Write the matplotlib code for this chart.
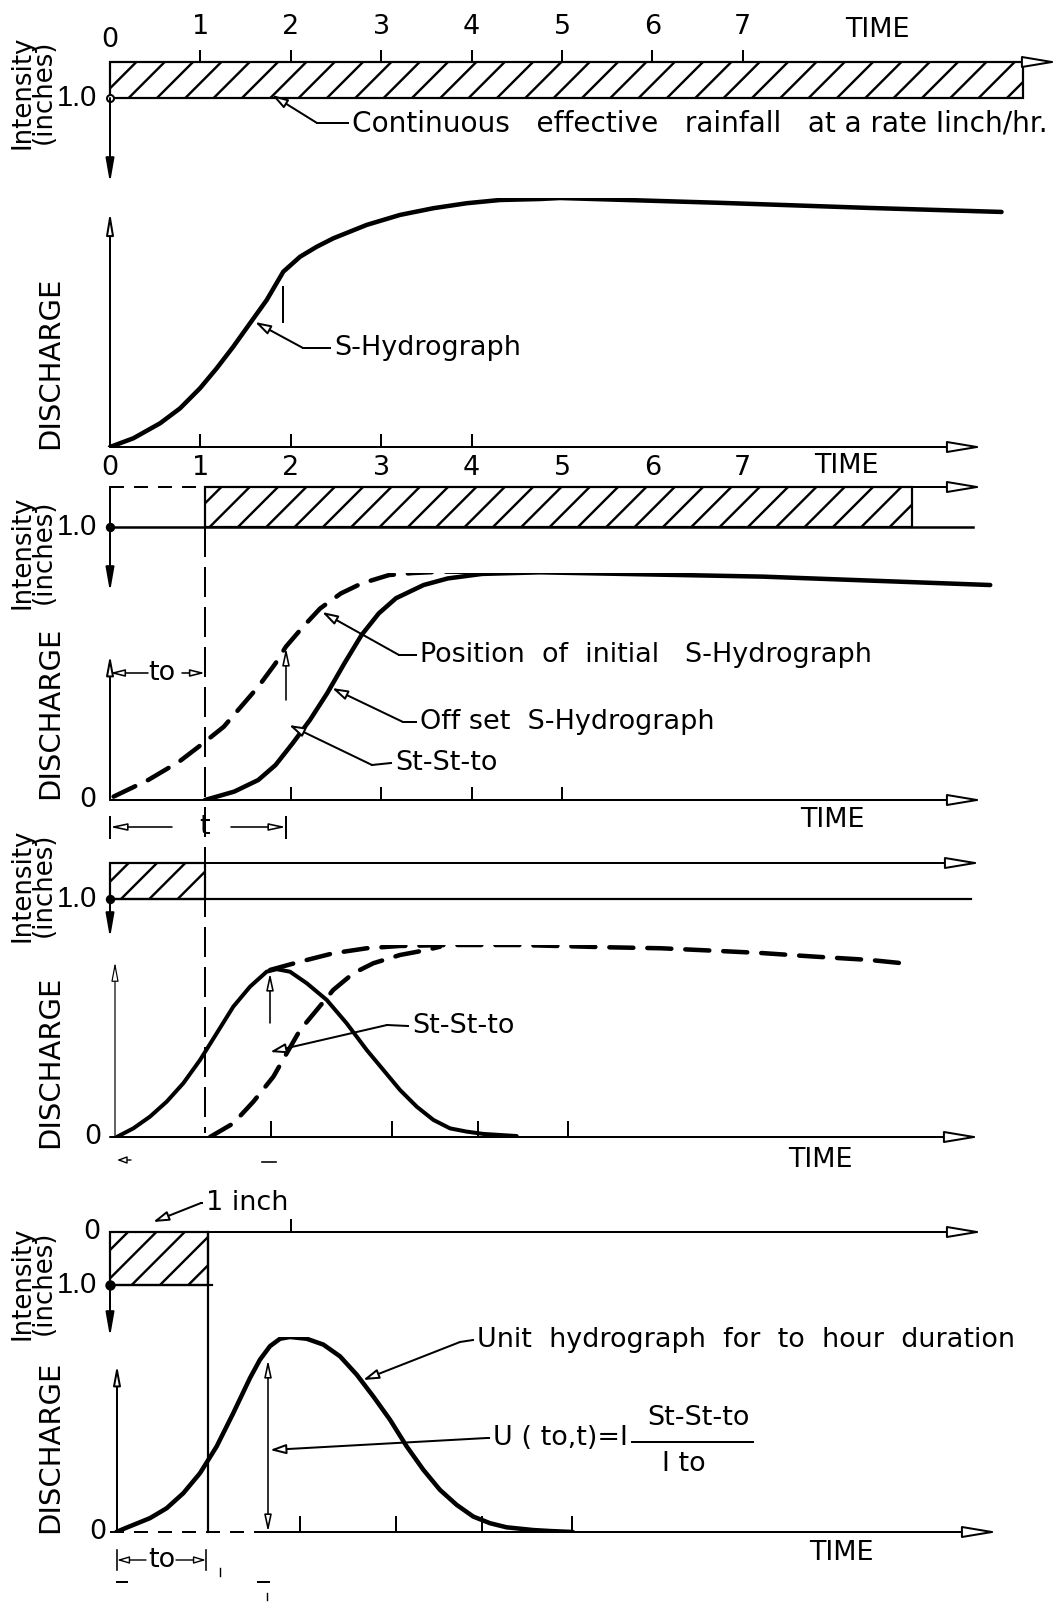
#!/usr/bin/env python

import matplotlib
matplotlib.use('Agg')

from matplotlib import pyplot as plt
from matplotlib.lines import Line2D

W, H, DPI = 1064, 1605, 170
X0, XS = 110, 90.4  # pixel of time zero, pixels per hour

# time axis labels (hours)
hours = [0, 1, 2, 3, 4, 5, 6, 7]

# S-hydrograph (panel 2), discharge relative to equilibrium
s_time = [0, 0.258, 0.553, 0.774, 0.996, 1.180, 1.364, 1.549, 1.733, 1.917,
          2.102, 2.286, 2.470, 2.840, 3.208, 3.577, 3.946, 4.314, 4.757,
          4.978, 6.715, 8.407, 9.862]
s_flow = [0, 0.035, 0.095, 0.155, 0.236, 0.316, 0.403, 0.497, 0.590, 0.704,
          0.764, 0.804, 0.838, 0.892, 0.932, 0.959, 0.979, 0.992, 0.996, 1.0,
          0.981, 0.960, 0.944]

# initial S-hydrograph position (dashed) and offset S-hydrograph (panel 4)
init_time = [0.04, 0.422, 0.765, 1.031, 1.259, 1.449, 1.640, 1.831, 1.945,
             2.135, 2.325, 2.554, 2.783, 3.087, 3.354, 3.697, 4.12]
init_flow = [0.015, 0.088, 0.169, 0.25, 0.323, 0.411, 0.499, 0.602, 0.675,
             0.763, 0.844, 0.91, 0.954, 0.991, 1.0, 1.006, 1.005]
off_time = [1.05, 1.374, 1.640, 1.831, 2.021, 2.211, 2.402, 2.593, 2.783,
            2.973, 3.164, 3.469, 3.736, 4.116, 4.757, 7.222, 9.737]
off_flow = [0, 0.037, 0.088, 0.154, 0.25, 0.352, 0.47, 0.602, 0.727, 0.822,
            0.889, 0.947, 0.976, 0.996, 1.003, 0.984, 0.947]

# difference St - St-to (panel 6) with the two S-curves dashed
diff_time = [0.074, 0.258, 0.442, 0.627, 0.811, 0.996, 1.180, 1.364, 1.549,
             1.733, 1.844, 1.991, 2.176, 2.397, 2.618, 2.840, 3.024, 3.208,
             3.393, 3.577, 3.761, 3.946, 4.130, 4.499]
diff_flow = [0, 0.045, 0.106, 0.184, 0.280, 0.401, 0.540, 0.679, 0.783,
             0.861, 0.874, 0.861, 0.801, 0.714, 0.592, 0.453, 0.349, 0.245,
             0.158, 0.089, 0.045, 0.028, 0.016, 0.005]
cont_time = [1.770, 2.102, 2.470, 2.840, 3.208, 3.761, 4.499, 4.956, 5.514,
             6.095, 6.648, 7.212, 7.777, 8.407, 8.850]
cont_flow = [0.870, 0.913, 0.957, 0.983, 0.995, 1.0, 1.0, 0.995, 0.988,
             0.983, 0.971, 0.958, 0.940, 0.922, 0.901]
shift_time = [1.106, 1.364, 1.586, 1.807, 1.955, 2.102, 2.286, 2.470, 2.692,
              2.913, 3.208, 3.503, 3.650]
shift_flow = [0, 0.071, 0.184, 0.314, 0.436, 0.557, 0.661, 0.766, 0.853,
              0.905, 0.948, 0.974, 0.991]

# unit hydrograph (panel 8)
uh_time = [0.07, 0.166, 0.442, 0.627, 0.811, 0.996, 1.180, 1.364, 1.549,
           1.659, 1.770, 1.881, 1.991, 2.176, 2.360, 2.544, 2.729, 2.913,
           3.097, 3.282, 3.466, 3.650, 3.835, 4.019, 4.204, 4.388, 4.683,
           4.867, 5.12]
uh_flow = [0, 0.019, 0.071, 0.122, 0.199, 0.302, 0.439, 0.610, 0.790, 0.884,
           0.953, 0.991, 1.0, 0.991, 0.961, 0.901, 0.807, 0.695, 0.576, 0.439,
           0.319, 0.216, 0.139, 0.079, 0.045, 0.024, 0.010, 0.005, 0.0]

# effective rainfall blocks (hours), intensity in inches
rain_start = [0, 1.05, 0, 0]
rain_end = [10.1, 8.87, 1.05, 1.08]
rain_depth = 1.0

ticks4 = [2, 3, 4, 5]
ticks6 = [1.78, 3.12, 4.07, 5.07]
ticks8 = [2.1, 3.16, 4.12, 5.11]


def pt(px):
    return px * 72.0 / DPI


plt.rcParams['lines.scale_dashes'] = False
plt.rcParams['hatch.linewidth'] = pt(2.4)
plt.rcParams['font.family'] = ['DejaVu Sans']

FS = pt(27)
fig = plt.figure(figsize=(W / DPI, H / DPI), dpi=DPI)
fig.patch.set_facecolor('white')


def hrs(px):
    return (px - X0) / XS


def panel(top, bottom, vtop, vbottom):
    ax = fig.add_axes([0, 1 - bottom / H, 1, (bottom - top) / H])
    ax.set_xlim(-X0 / XS, (W - X0) / XS)
    ax.set_ylim(vbottom, vtop)
    ax.axis('off')

    def yv(py):
        return vbottom + (vtop - vbottom) * (bottom - py) / (bottom - top)
    return ax, yv


def line(ax, xs, ys, lw=2, **kw):
    ax.plot(xs, ys, color='black', lw=pt(lw), clip_on=False, **kw)


def arrow(ax, start, end, lw=2, hl=14, hw=3.5, fill='black', both=False):
    style = '<|-|>' if both else '-|>'
    ax.annotate('', xy=end, xytext=start, annotation_clip=False,
                arrowprops=dict(arrowstyle=f'{style},head_length={pt(hl)},head_width={pt(hw)}',
                                linewidth=pt(lw), edgecolor='black', facecolor=fill,
                                shrinkA=0, shrinkB=0, mutation_scale=1))


def ftext(x, y, s, size=FS, **kw):
    kw.setdefault('ha', 'left')
    kw.setdefault('va', 'center')
    fig.text(x / W, 1 - y / H, s, fontsize=size, **kw)


def leader(ax, head, kink, txt, label, size=FS):
    ax.annotate('', xy=head, xytext=(kink[0] / W, 1 - kink[1] / H),
                textcoords='figure fraction', annotation_clip=False,
                arrowprops=dict(arrowstyle=f'-|>,head_length={pt(13)},head_width={pt(4)}',
                                linewidth=pt(2), edgecolor='black', facecolor='white',
                                shrinkA=0, shrinkB=0, mutation_scale=1))
    fig.add_artist(Line2D([kink[0] / W, (txt[0] - 4) / W],
                          [1 - kink[1] / H, 1 - txt[1] / H],
                          transform=fig.transFigure, color='black', lw=pt(2)))
    ftext(txt[0], txt[1], label, size=size)


def intensity_label(yc):
    ftext(33, yc, 'Intensity\n(inches)', size=pt(26), rotation=90,
          ha='center', linespacing=0.8)


def discharge_label(yc):
    ftext(50, yc, 'DISCHARGE', size=pt(29), rotation=90, ha='center')


def one_inch_label(ax, y=1):
    ax.text(hrs(97), y, '1.0', ha='right', va='center', fontsize=pt(29),
            family='Liberation Sans')


def rain(ax, i):
    ax.bar(rain_start[i], rain_depth, width=rain_end[i] - rain_start[i],
           bottom=0, align='edge', fill=False, hatch='//', edgecolor='black',
           linewidth=pt(2.2), clip_on=False)


DASH = (0, (pt(24), pt(14)))
BIG = dict(hl=30, hw=5, fill='white')

# ---- panel 1: continuous rainfall
ax1, v1 = panel(62, 98, 0, 1)
rain(ax1, 0)
arrow(ax1, (0, 0), (hrs(1058), 0), **BIG)
for h in hours[1:]:
    line(ax1, [h, h], [0, v1(51)])
    ax1.text(h, v1(27), str(h), ha='center', va='center', fontsize=FS)
ax1.text(0, v1(40), '0', ha='center', va='center', fontsize=FS)
ax1.text(hrs(877), v1(30), 'TIME', ha='center', va='center', fontsize=FS)
ax1.plot(0, 1, 'o', ms=pt(7), mfc='white', mec='black', mew=pt(2), clip_on=False)
arrow(ax1, (0, 1), (0, v1(183)), hl=20, hw=3.5)
one_inch_label(ax1)
intensity_label(92)
leader(ax1, (hrs(272), v1(95)), (317, 123), (352, 123),
       'Continuous   effective   rainfall   at a rate Iinch/hr.', size=pt(28))

# ---- panel 2: S-hydrograph
ax2, v2 = panel(198, 447, 1, 0)
ax2.plot(s_time, s_flow, color='black', lw=pt(4.5), solid_capstyle='round')
arrow(ax2, (0, 0), (hrs(983), 0), **BIG)
arrow(ax2, (0, 0), (0, v2(212)), hl=18, hw=3, fill='white')
for h in hours[1:5]:
    line(ax2, [h, h], [0, v2(435)])
for h in hours:
    ax2.text(h, v2(468), str(h), ha='center', va='center', fontsize=FS)
ax2.text(hrs(846), v2(466), 'TIME', ha='center', va='center', fontsize=FS)
line(ax2, [hrs(283), hrs(283)], [v2(287), v2(322)])
discharge_label(363)
leader(ax2, (hrs(255), v2(322)), (303, 348), (334, 348), 'S-Hydrograph')

# ---- panel 3: rainfall lagged by to
ax3, v3 = panel(487, 527, 0, 1)
rain(ax3, 1)
line(ax3, [0, rain_start[1]], [0, 0], ls=(0, (pt(14), pt(10))))
arrow(ax3, (rain_start[1], 0), (hrs(983), 0), **BIG)
line(ax3, [0, hrs(973)], [1, 1], lw=2.5)
line(ax3, [0, 0], [0, 1])
ax3.plot(0, 1, 'o', ms=pt(7), color='black', clip_on=False)
arrow(ax3, (0, 1), (0, v3(592)), hl=20, hw=3.5)
one_inch_label(ax3)
intensity_label(552)

# ---- panel 4: initial and offset S-hydrographs
ax4, v4 = panel(573, 800, 1, 0)
ax4.plot(init_time, init_flow, color='black', lw=pt(4.5), ls=DASH, dash_capstyle='round')
ax4.plot(off_time, off_flow, color='black', lw=pt(4.5), solid_capstyle='round')
arrow(ax4, (0, 0), (hrs(983), 0), **BIG)
arrow(ax4, (0, 0), (0, v4(655)), hl=16, hw=3, fill='white')
for h in ticks4:
    line(ax4, [h, h], [0, v4(788)])
ax4.text(hrs(88), 0, '0', ha='center', va='center', fontsize=FS)
arrow(ax4, (hrs(286), v4(700)), (hrs(286), v4(648)), lw=1.6, hl=14, hw=3, fill='white')
leader(ax4, (hrs(322), v4(612)), (399, 655), (420, 655),
       'Position  of  initial   S-Hydrograph')
leader(ax4, (hrs(332), v4(688)), (403, 722), (420, 722), 'Off set  S-Hydrograph')
leader(ax4, (hrs(289), v4(725)), (372, 765), (395, 763), 'St-St-to')
arrow(ax4, (hrs(148), v4(673)), (0, v4(673)), lw=1.6, hl=12, hw=3, fill='white')
ax4.text(hrs(162), v4(673), 'to', ha='center', va='center', fontsize=FS)
arrow(ax4, (hrs(182), v4(673)), (rain_start[1], v4(673)), lw=1.6, hl=12, hw=3, fill='white')
arrow(ax4, (hrs(172), v4(827)), (0, v4(827)), lw=1.6, hl=14, hw=3, fill='white')
ax4.text(rain_start[1], v4(827), 't', ha='center', va='center', fontsize=FS)
arrow(ax4, (hrs(231), v4(827)), (hrs(286), v4(827)), lw=1.6, hl=14, hw=3, fill='white')
line(ax4, [0, 0], [v4(817), v4(838)])
line(ax4, [hrs(286), hrs(286)], [v4(817), v4(838)])
ax4.text(hrs(832), v4(820), 'TIME', ha='center', va='center', fontsize=FS)
discharge_label(713)

# ---- panel 5: rainfall of duration to
ax5, v5 = panel(863, 899, 0, 1)
rain(ax5, 2)
arrow(ax5, (0, 0), (hrs(981), 0), **BIG)
line(ax5, [0, hrs(971)], [1, 1], lw=2.2)
ax5.plot(0, 1, 'o', ms=pt(7), color='black', clip_on=False)
arrow(ax5, (0, 1), (0, v5(938)), hl=20, hw=3.5)
one_inch_label(ax5)
intensity_label(885)

# ---- panel 6: St - St-to
ax6, v6 = panel(945, 1137, 1, 0)
ax6.plot(diff_time, diff_flow, color='black', lw=pt(4), solid_capstyle='round')
ax6.plot(cont_time, cont_flow, color='black', lw=pt(4.5), ls=DASH, dash_capstyle='round')
ax6.plot(shift_time, shift_flow, color='black', lw=pt(4.5), ls=DASH, dash_capstyle='round')
arrow(ax6, (0, 0), (hrs(980), 0), **BIG)
arrow(ax6, (hrs(115), 0), (hrs(115), v6(962)), lw=1.2, hl=16, hw=3, fill='white')
for h in ticks6:
    line(ax6, [h, h], [0, v6(1122)])
ax6.text(hrs(93), 0, '0', ha='center', va='center', fontsize=FS)
arrow(ax6, (hrs(270), v6(1023)), (hrs(270), v6(973)), lw=1.6, hl=14, hw=3, fill='white')
leader(ax6, (hrs(270), v6(1052)), (387, 1025), (412, 1026), 'St-St-to')
arrow(ax6, (hrs(131), v6(1160)), (hrs(117), v6(1160)), lw=1.4, hl=8, hw=3, fill='white')
line(ax6, [hrs(262), hrs(276)], [v6(1162), v6(1162)], lw=1.6)
ax6.text(hrs(820), v6(1160), 'TIME', ha='center', va='center', fontsize=FS)
discharge_label(1062)

# vertical reference at t = to
fig.add_artist(Line2D([(X0 + XS * rain_start[1]) / W] * 2, [1 - 487 / H, 1 - 1133 / H],
                      transform=fig.transFigure, color='black', lw=pt(2),
                      ls=(0, (pt(30), pt(10)))))

# ---- panel 7: one inch of rain in to hours
ax7, v7 = panel(1232, 1285, 0, 1)
rain(ax7, 3)
arrow(ax7, (0, 0), (hrs(983), 0), **BIG)
line(ax7, [2, 2], [0, v7(1220)])
line(ax7, [0, hrs(212)], [1, 1], lw=2.2)
line(ax7, [rain_end[3], rain_end[3]], [0, v7(1532)], lw=2.2)
ax7.plot(0, 1, 'o', ms=pt(8), color='black', clip_on=False)
arrow(ax7, (0, 1), (0, v7(1337)), hl=20, hw=3.5)
ax7.text(hrs(100), 0, '0', ha='right', va='center', fontsize=FS)
one_inch_label(ax7)
leader(ax7, (hrs(153), v7(1222)), (201, 1203), (206, 1203), '1 inch')
intensity_label(1283)

# ---- panel 8: unit hydrograph
ax8, v8 = panel(1337, 1532, 1, 0)
ax8.plot(uh_time, uh_flow, color='black', lw=pt(4.5), solid_capstyle='round')
line(ax8, [0, hrs(263)], [0, 0], ls=(0, (pt(14), pt(10))))
arrow(ax8, (hrs(263), 0), (hrs(998), 0), **BIG)
arrow(ax8, (hrs(117), 0), (hrs(117), v8(1365)), hl=16, hw=3, fill='white')
for h in ticks8:
    line(ax8, [h, h], [0, v8(1517)])
ax8.text(hrs(98), 0, '0', ha='center', va='center', fontsize=FS)
arrow(ax8, (hrs(268), v8(1532)), (hrs(268), v8(1360)), lw=1.6, hl=14, hw=3,
      fill='white', both=True)
leader(ax8, (hrs(363), v8(1380)), (460, 1342), (477, 1340),
       'Unit  hydrograph  for  to  hour  duration')
leader(ax8, (hrs(270), v8(1450)), (487, 1438), (493, 1438), 'U ( to,t)=I')
ftext(698, 1418, 'St-St-to', ha='center')
fig.add_artist(Line2D([632 / W, 753 / W], [1 - 1442 / H] * 2,
                      transform=fig.transFigure, color='black', lw=pt(2)))
ftext(684, 1464, 'I to', ha='center')
line(ax8, [hrs(117), hrs(117)], [v8(1550), v8(1570)], lw=1.6)
arrow(ax8, (hrs(146), v8(1560)), (hrs(117), v8(1560)), lw=1.4, hl=10, hw=3, fill='white')
ax8.text(hrs(162), v8(1560), 'to', ha='center', va='center', fontsize=FS)
arrow(ax8, (hrs(176), v8(1560)), (hrs(206), v8(1560)), lw=1.4, hl=10, hw=3, fill='white')
line(ax8, [hrs(206), hrs(206)], [v8(1550), v8(1570)], lw=1.6)
line(ax8, [hrs(220), hrs(220)], [v8(1568), v8(1576)], lw=1.4)
line(ax8, [hrs(117), hrs(127)], [v8(1582), v8(1582)], lw=2)
line(ax8, [hrs(258), hrs(269)], [v8(1582), v8(1582)], lw=2)
line(ax8, [hrs(267), hrs(267)], [v8(1593), v8(1600)], lw=1.4)
ax8.text(hrs(841), v8(1553), 'TIME', ha='center', va='center', fontsize=FS)
discharge_label(1447)

plt.savefig('out.png', dpi=DPI)
